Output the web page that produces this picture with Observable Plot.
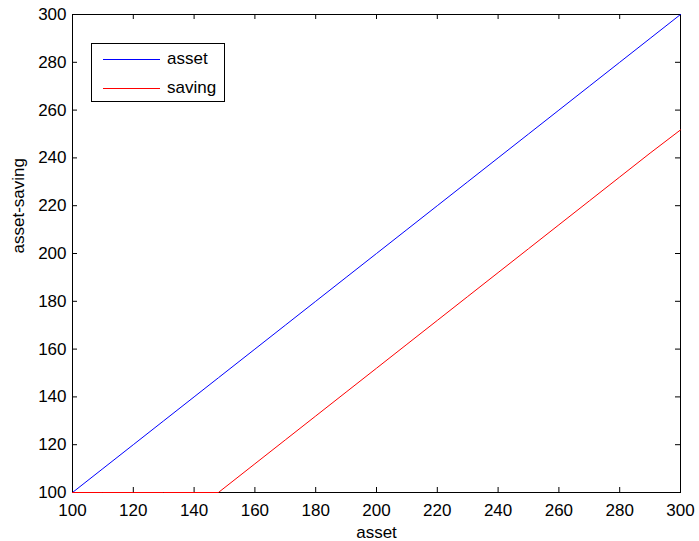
<!DOCTYPE html>
<html><head><meta charset="utf-8">
<script src="https://cdn.jsdelivr.net/npm/d3@7"></script>
<script src="https://cdn.jsdelivr.net/npm/@observablehq/plot@0.6"></script>
<style>
body{margin:0;background:#fff;}
#wrap{position:relative;width:699px;height:541px;font-family:"Liberation Sans",Arial,Helvetica,sans-serif;}
#legend{position:absolute;left:91px;top:43px;width:134px;height:59px;border:1px solid #000;background:#fff;box-sizing:border-box;font-size:17px;color:#000;}
#legend .row{position:absolute;left:11px;display:flex;align-items:center;height:20px;}
#legend .sw{width:57px;height:1px;margin-right:7px;}
</style></head>
<body><div id="wrap"></div>
<script>
// data
const asset     = [100,110,120,130,140,148,160,170,180,190,200,210,220,230,240,250,260,270,280,290,300];
const assetNext = [100,110,120,130,140,148,160,170,180,190,200,210,220,230,240,250,260,270,280,290,300];
const saving    = [100,100,100,100,100,100,112,122,132,142,152,162,172,182,192,202,212,222,232,242,251.7];
const xTicks = [100,120,140,160,180,200,220,240,260,280,300];
const yTicks = [100,120,140,160,180,200,220,240,260,280,300];
const seriesNames = ["asset","saving"];
const seriesColors = ["#0000ff","#ff0000"];

const W = 699, H = 541, mL = 72, mR = 19, mT = 14, mB = 49;
const PH = H - mT - mB, PW = W - mL - mR, TL = 5;

const rows = asset.map((a,i)=>({a, next: assetNext[i], s: saving[i]}));

const chart = Plot.plot({
  width: W, height: H,
  marginLeft: mL, marginRight: mR, marginTop: mT, marginBottom: mB,
  style: {fontFamily: '"Liberation Sans", Arial, Helvetica, sans-serif', fontSize: "17px", color: "#000", background: "#fff"},
  x: {domain: [100, 300]},
  y: {domain: [100, 300]},
  marks: [
    Plot.axisX(xTicks, {tickSize: 0, tickPadding: 11, label: null, fontSize: 17}),
    Plot.axisY(yTicks, {tickSize: 0, tickPadding: 6, label: null, fontSize: 17}),
    // inward ticks on all four sides
    Plot.tickX(xTicks, {x: d => d, insetTop: PH - TL, stroke: "#000"}),
    Plot.tickX(xTicks, {x: d => d, insetBottom: PH - TL, stroke: "#000"}),
    Plot.tickY(yTicks, {y: d => d, insetRight: PW - TL, stroke: "#000"}),
    Plot.tickY(yTicks, {y: d => d, insetLeft: PW - TL, stroke: "#000"}),
    Plot.frame({stroke: "#000"}),
    Plot.line(rows, {x: "a", y: "next", stroke: seriesColors[0], strokeWidth: 1}),
    Plot.line(rows, {x: "a", y: "s", stroke: seriesColors[1], strokeWidth: 1}),
    Plot.text(["asset"], {text: d => d, frameAnchor: "bottom", lineAnchor: "middle", dy: 40, fontSize: 17}),
    Plot.text(["asset-saving"], {text: d => d, frameAnchor: "left", lineAnchor: "middle", dx: -54, rotate: -90, fontSize: 17})
  ]
});
const wrap = document.getElementById("wrap");
wrap.appendChild(chart);

const lg = document.createElement("div");
lg.id = "legend";
seriesNames.forEach((n,i)=>{
  const r = document.createElement("div");
  r.className = "row";
  r.style.top = (i === 0 ? 5 : 34) + "px";
  const sw = document.createElement("div");
  sw.className = "sw";
  sw.style.backgroundColor = seriesColors[i];
  const t = document.createElement("span");
  t.textContent = n;
  r.appendChild(sw); r.appendChild(t);
  lg.appendChild(r);
});
wrap.appendChild(lg);
</script>
</body></html>
